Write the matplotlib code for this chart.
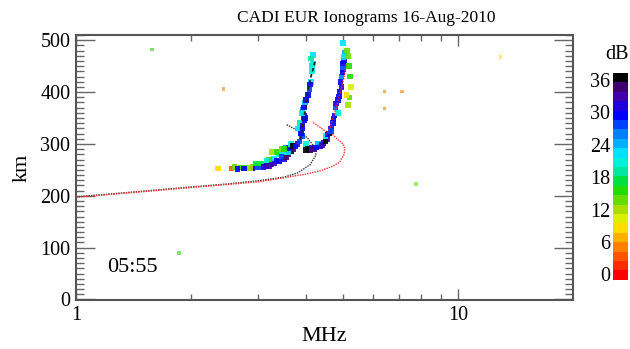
"""CADI EUR ionogram, 16-Aug-2010 05:55 — echoes coloured by amplitude (dB)."""

import matplotlib
matplotlib.use('Agg')
import matplotlib.pyplot as plt
from matplotlib.colors import ListedColormap, Normalize
from matplotlib.ticker import FixedLocator, FixedFormatter, MultipleLocator, NullFormatter

plt.rcParams['font.family'] = ['Liberation Serif', 'DejaVu Serif']

# echo points: frequency (MHz), virtual height (km), amplitude (dB)
ECHO_F = [2.35, 2.55, 2.6, 2.7, 2.8, 2.9, 3.0, 3.1, 3.2,
          2.75, 2.9, 3.0, 3.15, 3.25, 3.3, 3.4, 3.5, 3.55, 3.6, 3.65, 3.7,
          3.3, 3.4, 3.5, 3.55, 3.2, 3.35, 3.45, 3.25,
          2.65, 2.85, 3.05, 3.1, 3.2, 3.35, 3.45, 3.6, 3.6, 3.65, 3.7, 3.5,
          2.95, 3.15,
          3.75, 3.8, 3.85, 3.9, 3.9, 3.95, 3.95, 3.92, 3.98, 4.05, 4.08,
          4.12, 4.15, 4.17, 4.17, 3.8, 3.85, 4.0, 4.05, 4.1, 4.15,
          3.88, 3.92, 3.98, 3.9, 3.95, 4.0, 4.1, 4.15, 4.12,
          4.0, 4.2, 4.35, 4.45, 4.55, 4.6, 4.65, 4.3, 4.5,
          4.25, 4.4, 4.5, 4.55, 4.65,
          4.7, 4.75, 4.78, 4.85, 4.9, 4.92, 4.95, 5.0, 5.03, 5.05, 5.0,
          4.72, 4.8, 4.88, 4.95, 4.98, 5.0, 5.02, 4.85,
          5.15, 5.2, 5.25, 5.22, 5.18, 5.15, 5.12, 5.1]
ECHO_H = [253, 253, 256, 255, 254, 256, 257, 258, 262,
          253, 253, 255, 257, 260, 263, 266, 270, 275, 280, 286, 290,
          272, 280, 285, 292, 270, 285, 290, 285,
          252, 254, 262, 256, 258, 268, 276, 284, 292, 300, 296, 290,
          262, 268,
          295, 300, 305, 315, 330, 345, 355, 365, 380, 395, 405,
          420, 440, 455, 472, 330, 340, 300, 290, 288, 292,
          320, 335, 350, 360, 370, 385, 415, 450, 465,
          288, 290, 295, 302, 310, 320, 330, 300, 315,
          293, 298, 305, 318, 325,
          340, 355, 370, 385, 400, 420, 430, 445, 460, 475, 495,
          348, 378, 392, 410, 438, 455, 468, 360,
          375, 390, 410, 430, 450, 470, 480, 395]
ECHO_DB = [8, 3, 14, 15, 16, 14, 13, 16, 14,
           30, 32, 28, 30, 31, 33, 29, 32, 34, 35, 36, 34,
           22, 20, 22, 24, 16, 15, 14, 12,
           30, 12, 17, 31, 33, 30, 27, 22, 30, 20, 36, 15,
           18, 20,
           30, 32, 28, 27, 29, 30, 31, 26, 24, 29, 28,
           22, 21, 22, 22, 22, 19, 20, 36, 35, 33,
           30, 31, 29, 20, 30, 30, 30, 20, 19,
           36, 34, 30, 31, 33, 36, 32, 24, 22,
           30, 33, 36, 30, 28,
           29, 30, 28, 30, 29, 30, 26, 28, 29, 24, 22,
           30, 31, 29, 31, 30, 29, 22, 20,
           12, 14, 10, 15, 16, 14, 13, 8]

# isolated weak echoes (noise)
NOISE_F = [1.58, 1.86, 2.43, 6.43, 7.14, 6.43, 7.77, 12.9]
NOISE_H = [482, 90, 406, 401, 401, 368, 223, 468]
NOISE_DB = [15, 15, 5, 5, 5, 5, 14, 8]

# model traces (black = O, red = X)
O_MODEL_F = [1.0, 1.5, 2.0, 2.5, 3.0, 3.5, 3.8, 4.1, 4.25, 4.2, 4.05, 3.9, 3.56]
O_MODEL_H = [198, 209, 217, 223, 229, 236, 244, 260, 279, 295, 310, 322, 337]
X_MODEL_F = [1.0, 1.5, 2.0, 2.5, 3.0, 3.45, 4.0, 4.35, 4.7, 4.9, 5.03, 5.06,
             5.0, 4.85, 4.7, 4.45, 4.15]
X_MODEL_H = [197, 208, 216, 222, 227, 234, 242, 248, 257, 265, 280, 290,
             300, 308, 318, 327, 343]
O_TRACE_F = [3.87, 3.93, 4.0, 4.05, 4.12, 4.17, 4.22]
O_TRACE_H = [308, 345, 370, 404, 430, 443, 459]
X_TRACE_F = [4.5, 4.62, 4.76, 4.9, 5.02, 5.1]
X_TRACE_H = [318, 330, 362, 395, 425, 455]

DB_TICKS = [0, 6, 12, 18, 24, 30, 36]

# bands from red (weak) to black (strong)
CMAP = ListedColormap([
    '#ff0000', '#ff2a00', '#ff5500', '#ff8000', '#ffb000', '#ffdd00',
    '#ddee00', '#aadd00', '#66dd00', '#22dd00', '#00e040', '#00e8a0',
    '#00f0d8', '#00e0ff', '#00b0ff', '#0080ff', '#0040ff', '#0000ff',
    '#2000dd', '#4000aa', '#400070', '#000000'])
NORM = Normalize(vmin=-1, vmax=37.3)

fig = plt.figure(figsize=(6.3, 3.49), dpi=100)
ax = fig.add_axes([0.1206, 0.1404, 0.789, 0.759])

ax.plot(O_MODEL_F, O_MODEL_H, color='#333333', lw=1.0, ls=(0, (1, 0.8)), zorder=2)
ax.plot(X_MODEL_F, X_MODEL_H, color='#ff3030', lw=1.0, ls=(0, (1, 0.8)), zorder=2)
ax.scatter(ECHO_F, ECHO_H, c=ECHO_DB, cmap=CMAP, norm=NORM, marker='s',
           s=16, linewidths=0, alpha=0.9, zorder=3)
ax.scatter(NOISE_F, NOISE_H, c=NOISE_DB, cmap=CMAP, norm=NORM, marker='s',
           s=6, linewidths=0, alpha=0.6, zorder=3)
ax.plot(O_TRACE_F, O_TRACE_H, color='#222222', lw=1.3, ls=(0, (2, 1.5)), zorder=4)
ax.plot(X_TRACE_F, X_TRACE_H, color='#ff2020', lw=1.0, ls=(0, (1, 1)), zorder=4)

ax.set_xscale('log')
ax.set_xlim(1, 20)
ax.set_ylim(-1, 510)
ax.xaxis.set_major_locator(FixedLocator([1, 10]))
ax.xaxis.set_major_formatter(FixedFormatter(['1', '10']))
ax.xaxis.set_minor_locator(FixedLocator([2, 3, 4, 5, 6, 7, 8, 9]))
ax.xaxis.set_minor_formatter(NullFormatter())
ax.yaxis.set_major_locator(MultipleLocator(100))
ax.yaxis.set_minor_locator(MultipleLocator(10))
ax.tick_params(which='both', direction='in', top=True, right=True,
               color='#666666', labelsize=14.5)
ax.tick_params(axis='y', which='major', length=14, width=1.0, pad=4)
ax.tick_params(axis='y', which='minor', length=6, width=1.0)
ax.tick_params(axis='x', which='major', length=8, width=1.0, pad=4)
ax.tick_params(axis='x', which='minor', length=4, width=1.0)
for sp in ax.spines.values():
    sp.set_color('#555555')
    sp.set_linewidth(1.5)

ax.set_xlabel('MHz', fontsize=16, labelpad=2)
ax.set_ylabel('km', fontsize=16, labelpad=6)
ax.text(0.062, 0.121, '05:55', transform=ax.transAxes, fontsize=16,
        ha='left', va='center')
fig.text(0.581, 0.948, 'CADI EUR Ionograms 16-Aug-2010', fontsize=12.5,
         ha='center', va='center')

cax = fig.add_axes([0.973, 0.198, 0.024, 0.593])
cb = fig.colorbar(matplotlib.cm.ScalarMappable(norm=NORM, cmap=CMAP), cax=cax,
                  ticks=DB_TICKS)
cb.outline.set_visible(False)
cax.yaxis.set_ticks_position('left')
cax.tick_params(length=0, labelsize=14.5, pad=2)
fig.text(0.98, 0.843, 'dB', fontsize=14.5, ha='center', va='center')

fig.savefig('out.png', dpi=100)
